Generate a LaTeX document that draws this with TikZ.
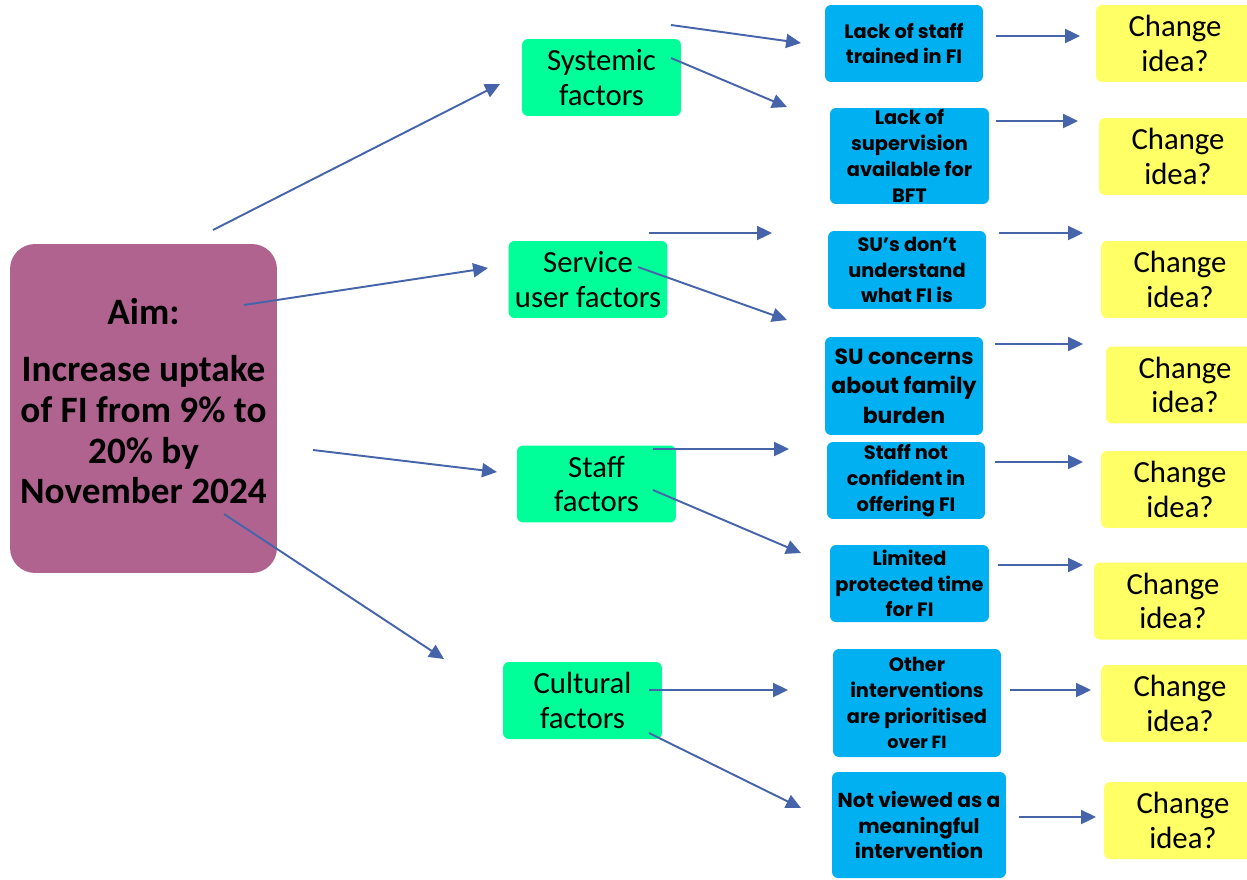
\documentclass[tikz,border=0pt]{standalone}
\usepackage{fontspec}
\setmainfont{Carlito}
\newfontfamily\boxfont{Poppins}
\usetikzlibrary{arrows.meta}
\definecolor{aimfill}{RGB}{176,99,143}
\definecolor{factfill}{RGB}{0,255,153}
\definecolor{causefill}{RGB}{0,176,240}
\definecolor{ideafill}{RGB}{255,255,102}
\definecolor{arrowcol}{RGB}{70,100,170}
\tikzset{
  aimbox/.style={fill=aimfill, rounded corners=0.5cm, minimum width=5.34cm, minimum height=6.58cm, inner sep=0pt},
  aimtext/.style={align=center, inner sep=0pt, font=\fontsize{21.2}{23.2}\selectfont\bfseries},
  factbox/.style={fill=factfill, rounded corners=0.12cm, minimum width=3.18cm, minimum height=1.54cm, align=center, inner sep=0pt, font=\fontsize{17.5}{19.8}\selectfont},
  causebox/.style={fill=causefill, rounded corners=0.12cm, minimum width=3.16cm, align=center, inner sep=0pt, font=\boxfont\bfseries\fontsize{11}{14.7}\selectfont},
  ideabox/.style={fill=ideafill, rounded corners=0.12cm, minimum width=3.16cm, minimum height=1.54cm, align=center, inner sep=0pt, font=\fontsize{17.5}{19.8}\selectfont},
  conn/.style={draw=arrowcol, line width=1.1pt, -{Triangle[length=8.5pt, width=8pt]}}
}
\begin{document}
\begin{tikzpicture}[x=0.02cm,y=-0.02cm]
\useasboundingbox (0,0) rectangle (1247,879);
\clip (0,0) rectangle (1247,879);
% aim
\node[aimbox] (aim) at (143.5,408.5) {};
\node[aimtext] (aimtxt) at (143.5,401) {Aim:\\[9.5pt]Increase uptake\\of FI from 9\% to\\20\% by\\November 2024};
% factors
\node[factbox] (sys) at (601.5,77.5) {Systemic\\factors};
\node[factbox] (ser) at (588,279.5) {Service\\user factors};
\node[factbox] (sta) at (596.5,484) {Staff\\factors};
\node[factbox] (cul) at (582.5,700.5) {Cultural\\factors};
% causes
\node[causebox, minimum height=1.54cm] (b1) at (904,43.5) {Lack of staff\\trained in FI};
\node[causebox, minimum height=1.92cm, minimum width=3.18cm] (b2) at (909.5,156) {Lack of\\supervision\\available for\\BFT};
\node[causebox, minimum height=1.56cm] (b3) at (907,270) {SU’s don’t\\understand\\what FI is};
\node[causebox, minimum height=1.96cm, font=\boxfont\bfseries\fontsize{12.5}{16.7}\selectfont] (b4) at (904,386) {SU concerns\\about family\\burden};
\node[causebox, minimum height=1.54cm] (b5) at (906,480.5) {Staff not\\confident in\\offering FI};
\node[causebox, minimum height=1.54cm, minimum width=3.18cm] (b6) at (909.5,583.5) {Limited\\protected time\\for FI};
\node[causebox, minimum height=2.16cm, minimum width=3.36cm] (b7) at (917,703) {Other\\interventions\\are prioritised\\{\fontsize{10}{12}\selectfont over FI}};
\node[causebox, minimum height=2.12cm, minimum width=3.48cm, font=\boxfont\bfseries\fontsize{11.5}{14.7}\selectfont] (b8) at (919,825) {Not viewed as a\\meaningful\\intervention};
% ideas
\node[ideabox] (y1) at (1175,43.5) {Change\\idea?};
\node[ideabox] (y2) at (1178,156.5) {Change\\idea?};
\node[ideabox] (y3) at (1180,279.5) {Change\\idea?};
\node[ideabox] (y4) at (1185,385) {Change\\idea?};
\node[ideabox] (y5) at (1180,489.5) {Change\\idea?};
\node[ideabox] (y6) at (1173,601) {Change\\idea?};
\node[ideabox] (y7) at (1180,703.5) {Change\\idea?};
\node[ideabox] (y8) at (1183,820.5) {Change\\idea?};
% arrow end points
\coordinate (a1s) at (213,230);  \coordinate (a1e) at (500,84);
\coordinate (a2s) at (244,305);  \coordinate (a2e) at (488,268);
\coordinate (a3s) at (313,450);  \coordinate (a3e) at (497,472);
\coordinate (a4s) at (224,514);  \coordinate (a4e) at (444,659);
\coordinate (s1s) at (671,25);   \coordinate (s1e) at (801,43);
\coordinate (s2s) at (671,58);   \coordinate (s2e) at (787,107);
\coordinate (v1s) at (649,233);  \coordinate (v1e) at (772,233);
\coordinate (v2s) at (638,267);  \coordinate (v2e) at (787,320);
\coordinate (t1s) at (653,449);  \coordinate (t1e) at (789,449);
\coordinate (t2s) at (653,490);  \coordinate (t2e) at (801,553);
\coordinate (c1s) at (649,690);  \coordinate (c1e) at (788,690);
\coordinate (c2s) at (649,733);  \coordinate (c2e) at (801,808);
\coordinate (i1s) at (996,36);   \coordinate (i1e) at (1080,36);
\coordinate (i2s) at (996,121);  \coordinate (i2e) at (1078,121);
\coordinate (i3s) at (999,233);  \coordinate (i3e) at (1083,233);
\coordinate (i4s) at (995,344);  \coordinate (i4e) at (1083,344);
\coordinate (i5s) at (995,462);  \coordinate (i5e) at (1083,462);
\coordinate (i6s) at (998,565);  \coordinate (i6e) at (1083,565);
\coordinate (i7s) at (1010,690); \coordinate (i7e) at (1091,690);
\coordinate (i8s) at (1019,817); \coordinate (i8e) at (1096,817);
% connectors
\foreach \s/\e in {a1s/a1e,a2s/a2e,a3s/a3e,a4s/a4e,s1s/s1e,s2s/s2e,v1s/v1e,v2s/v2e,t1s/t1e,t2s/t2e,c1s/c1e,c2s/c2e,i1s/i1e,i2s/i2e,i3s/i3e,i4s/i4e,i5s/i5e,i6s/i6e,i7s/i7e,i8s/i8e}
  \draw[conn] (\s) -- (\e);
\end{tikzpicture}
\end{document}
